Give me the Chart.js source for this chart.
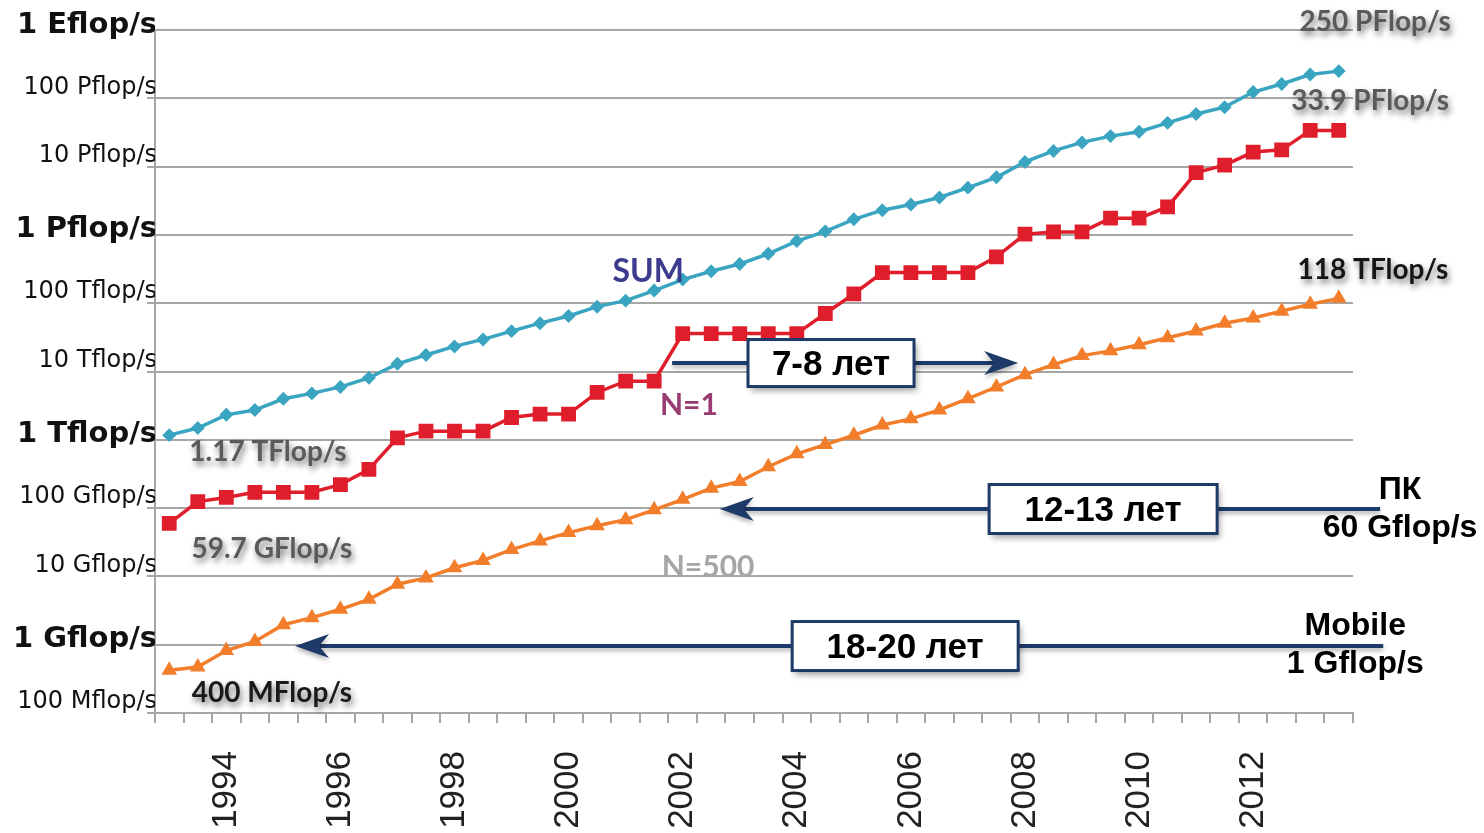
<!DOCTYPE html>
<html lang="ru">
<head>
<meta charset="utf-8">
<title>TOP500 performance development</title>
<script src="https://cdn.jsdelivr.net/npm/chart.js@4.4.0/dist/chart.umd.min.js"></script>
<style>
  html, body { margin: 0; padding: 0; background: #fff; }
  #wrap { width: 1484px; height: 833px; position: relative; }
</style>
</head>
<body>
<div id="wrap"><canvas id="perf"></canvas></div>
<script>
// TOP500 lists (June / November)
const lists = [
  '1993-06','1993-11','1994-06','1994-11','1995-06','1995-11','1996-06','1996-11',
  '1997-06','1997-11','1998-06','1998-11','1999-06','1999-11','2000-06','2000-11',
  '2001-06','2001-11','2002-06','2002-11','2003-06','2003-11','2004-06','2004-11',
  '2005-06','2005-11','2006-06','2006-11','2007-06','2007-11','2008-06','2008-11',
  '2009-06','2009-11','2010-06','2010-11','2011-06','2011-11','2012-06','2012-11',
  '2013-06','2013-11'
];

// all values in GFlop/s
const sumPerf = [
  1170, 1490, 2320, 2730, 3990, 4780, 5950, 8070,
  12960, 17430, 23300, 29500, 39000, 51000, 65000, 89000,
  109000, 153000, 222000, 293000, 375000, 528000, 813000, 1127000,
  1690000, 2300000, 2790000, 3530000, 4920000, 6970000, 11700000, 16950000,
  22600000, 27950000, 32400000, 43700000, 58900000, 74200000, 123400000, 162000000,
  223000000, 250000000
];
const firstPerf = [
  59.7, 124.5, 143.4, 170.4, 170.4, 170.4, 220.4, 368.2,
  1068, 1338, 1338, 1338, 2121, 2379, 2379, 4938,
  7226, 7226, 35860, 35860, 35860, 35860, 35860, 70720,
  136800, 280600, 280600, 280600, 280600, 478200, 1026000, 1105000,
  1105000, 1759000, 1759000, 2566000, 8162000, 10510000, 16320000, 17590000,
  33860000, 33860000
];
const lastPerf = [
  0.422, 0.472, 0.822, 1.114, 1.96, 2.49, 3.30, 4.62,
  7.67, 9.51, 13.39, 17.12, 24.73, 33.05, 43.82, 55.09,
  67.78, 94.30, 134.3, 195.8, 245.1, 403.4, 624.0, 850.6,
  1166, 1646, 2026, 2737, 4005, 5929, 9000, 12640,
  17090, 20050, 24670, 31120, 39090, 50940, 60820, 76500,
  96620, 117800
];

const tickValues = [0.1, 1, 10, 100, 1e3, 1e4, 1e5, 1e6, 1e7, 1e8, 1e9];
const tickLabels = [
  '100 Mflop/s', '1 Gflop/s', '10 Gflop/s', '100 Gflop/s', '1 Tflop/s',
  '10 Tflop/s', '100 Tflop/s', '1 Pflop/s', '10 Pflop/s', '100 Pflop/s', '1 Eflop/s'
];

const NAVY = '#1d3a68';

// text labels and arrows, placed in data coordinates (list index, GFlop/s)
const notes = [
  { t: '250 PFlop/s', i: 42.28, v: 1.3e9, size: 28, color: '#5a5a5a', shadow: true },
  { t: '33.9 PFlop/s', i: 42.1, v: 9.1e7, size: 28, color: '#5a5a5a', shadow: true },
  { t: '118 TFlop/s', i: 42.2, v: 3.06e5, size: 28, color: '#151515', shadow: true },
  { t: 'SUM', i: 16.79, v: 2.87e5, size: 32, color: '#3c3b8e' },
  { t: 'N=1', i: 18.22, v: 3240, size: 30, color: '#973d72' },
  { t: 'N=500', i: 18.89, v: 13.7, size: 30, color: '#a6a6a6' },
  { t: '1.17 TFlop/s', i: 3.46, v: 660, size: 28, color: '#5a5a5a', shadow: true },
  { t: '59.7 GFlop/s', i: 3.6, v: 25, size: 28, color: '#5a5a5a', shadow: true },
  { t: '400 MFlop/s', i: 3.6, v: 0.196, size: 28, color: '#1a1a1a', shadow: true }
];
const sideNotes = [
  { t: 'ПК', i: 43.15, v: 184 },
  { t: '60 Gflop/s', i: 43.15, v: 51 },
  { t: 'Mobile', i: 41.58, v: 1.88 },
  { t: '1 Gflop/s', i: 41.58, v: 0.525 }
];
const arrows = [
  { t: '7-8 лет', from: 17.63, to: 29.76, v: 1.33e4, box: 23.2, w: 166, h: 47 },
  { t: '12-13 лет', from: 42.45, to: 19.3, v: 97, box: 32.74, w: 228, h: 49 },
  { t: '18-20 лет', from: 42.56, to: 4.41, v: 0.956, box: 25.8, w: 226, h: 49 }
];

const annotate = {
  id: 'annotate',
  afterDraw(chart) {
    const ctx = chart.ctx;
    const x = chart.scales.x, y = chart.scales.y;
    ctx.save();
    ctx.textAlign = 'center';
    ctx.textBaseline = 'middle';

    notes.forEach(n => {
      ctx.save();
      ctx.font = 'bold ' + n.size + 'px Lato, "Open Sans", sans-serif';
      if (n.shadow) {
        ctx.shadowColor = 'rgba(0,0,0,0.55)';
        ctx.shadowBlur = 6;
        ctx.shadowOffsetX = 2;
        ctx.shadowOffsetY = 4;
      }
      ctx.fillStyle = n.color;
      ctx.fillText(n.t, x.getPixelForValue(n.i), y.getPixelForValue(n.v));
      ctx.restore();
    });

    arrows.forEach(a => {
      const x1 = x.getPixelForValue(a.from);
      const x2 = x.getPixelForValue(a.to);
      const yy = y.getPixelForValue(a.v);
      const dir = x2 > x1 ? 1 : -1;
      ctx.save();
      ctx.shadowColor = 'rgba(0,0,0,0.3)';
      ctx.shadowBlur = 4;
      ctx.shadowOffsetY = 3;
      ctx.strokeStyle = NAVY;
      ctx.lineWidth = 4;
      ctx.beginPath();
      ctx.moveTo(x1, yy);
      ctx.lineTo(x2 - dir * 20, yy);
      ctx.stroke();
      ctx.fillStyle = NAVY;
      ctx.beginPath();
      ctx.moveTo(x2, yy);
      ctx.lineTo(x2 - dir * 34, yy - 12);
      ctx.lineTo(x2 - dir * 24, yy);
      ctx.lineTo(x2 - dir * 34, yy + 12);
      ctx.closePath();
      ctx.fill();
      // box
      const bx = x.getPixelForValue(a.box);
      ctx.shadowColor = 'rgba(0,0,0,0.35)';
      ctx.shadowBlur = 6;
      ctx.shadowOffsetX = 3;
      ctx.shadowOffsetY = 4;
      ctx.fillStyle = '#fff';
      ctx.fillRect(bx - a.w / 2, yy - a.h / 2, a.w, a.h);
      ctx.shadowColor = 'transparent';
      ctx.lineWidth = 3;
      ctx.strokeRect(bx - a.w / 2, yy - a.h / 2, a.w, a.h);
      ctx.fillStyle = '#000';
      ctx.font = 'bold 35px "Liberation Sans", Arial, sans-serif';
      ctx.fillText(a.t, bx, yy + 2);
      ctx.restore();
    });

    ctx.fillStyle = '#000';
    ctx.font = 'bold 32px "Liberation Sans", Arial, sans-serif';
    sideNotes.forEach(s => {
      ctx.fillText(s.t, x.getPixelForValue(s.i), y.getPixelForValue(s.v));
    });
    ctx.restore();
  }
};

const bigTick = i => i === 1 || i === 4 || i === 7 || i === 10;

new Chart(document.getElementById('perf'), {
  type: 'line',
  data: {
    labels: lists,
    datasets: [
      {
        label: 'SUM', data: sumPerf,
        borderColor: '#3aa5c1', backgroundColor: '#3aa5c1',
        borderWidth: 3.5, pointStyle: 'rectRot', pointRadius: 4.5
      },
      {
        label: 'N=1', data: firstPerf,
        borderColor: '#e01e2b', backgroundColor: '#e01e2b',
        borderWidth: 3.5, pointStyle: 'rect', pointRadius: 8
      },
      {
        label: 'N=500', data: lastPerf,
        borderColor: '#f27d2a', backgroundColor: '#f27d2a',
        borderWidth: 3.5, pointStyle: 'triangle', pointRadius: 5.5
      }
    ]
  },
  options: {
    responsive: true,
    maintainAspectRatio: false,
    animation: false,
    layout: { padding: { left: 5, right: 131, top: 30, bottom: 0 } },
    plugins: { legend: { display: false }, tooltip: { enabled: false } },
    scales: {
      x: {
        type: 'category',
        offset: true,
        afterFit: s => { s.height = 120; },
        border: { color: '#a6a6a6', width: 2 },
        grid: {
          offset: true, drawOnChartArea: false, drawTicks: true,
          tickLength: 10, color: '#a6a6a6', lineWidth: 2
        },
        ticks: {
          autoSkip: false, minRotation: 90, maxRotation: 90, padding: 28,
          color: '#222',
          font: { family: '"Liberation Sans", Arial, sans-serif', size: 35 },
          callback: function (val, idx) {
            const l = lists[idx];
            const yr = +l.slice(0, 4);
            return (l.endsWith('06') && yr % 2 === 0) ? String(yr) : '';
          }
        }
      },
      y: {
        type: 'logarithmic',
        min: 0.1,
        max: 1e9,
        afterBuildTicks: s => { s.ticks = tickValues.map(v => ({ value: v })); },
        afterFit: s => { s.width = 150; },
        border: { color: '#a6a6a6', width: 2 },
        grid: { color: '#a6a6a6', lineWidth: 2, drawTicks: true, tickLength: 8 },
        ticks: {
          padding: -10,
          labelOffset: -5,
          color: '#111',
          // small labels get an empty second line so they sit higher above the grid line
          callback: (v, i) => bigTick(i) ? tickLabels[i] : [tickLabels[i], ''],
          font: c => bigTick(c.index)
            ? { family: '"DejaVu Sans", sans-serif', size: 29, weight: 'bold' }
            : { family: '"DejaVu Sans", sans-serif', size: 24, lineHeight: 0.5 }
        }
      }
    }
  },
  plugins: [annotate]
});
</script>
</body>
</html>
